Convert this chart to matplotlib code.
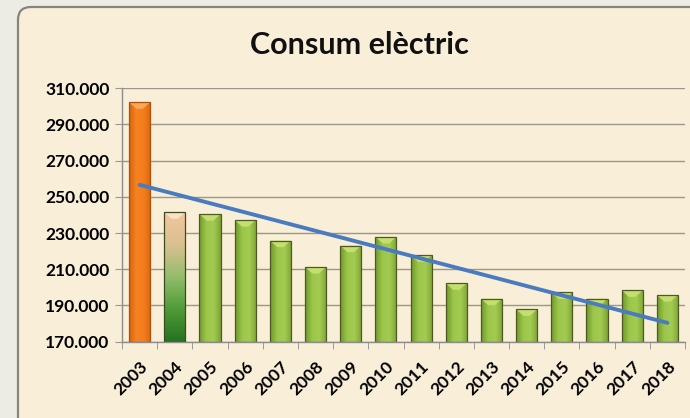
import numpy as np
import matplotlib.pyplot as plt
from matplotlib.patches import FancyBboxPatch, Polygon
from matplotlib.colors import LinearSegmentedColormap
from matplotlib.ticker import FuncFormatter

# dades del gràfic
anys = ['2003', '2004', '2005', '2006', '2007', '2008', '2009', '2010',
        '2011', '2012', '2013', '2014', '2015', '2016', '2017', '2018']
consum = [302300, 241600, 240500, 237200, 225900, 211300, 223100, 227900,
          217800, 202300, 193800, 187900, 197300, 193800, 198400, 195800]
y_min, y_max = 170000, 310000

plt.rcParams['font.family'] = ['Lato', 'DejaVu Sans']

fig = plt.figure(figsize=(6.9, 4.18), dpi=100, facecolor='#ecebe4')

# fons arrodonit tipus pergamí
bg = fig.add_axes([0, 0, 1, 1], zorder=-5)
bg.set_xlim(0, 690)
bg.set_ylim(418, 0)
bg.axis('off')
bg.add_patch(FancyBboxPatch((18, 7), 700, 430, boxstyle='round,pad=0,rounding_size=13',
                            facecolor='#f9efd9', edgecolor='#85857f', linewidth=1.6))

ax = fig.add_axes([122 / 690, 1 - 341.7 / 418, 563 / 690, 253.4 / 418])
ax.set_facecolor('none')

x = np.arange(len(anys))
ample = 0.6
bisell = (y_max - y_min) * 0.026

verd = LinearSegmentedColormap.from_list('verd', ['#6f9a2c', '#9cc64a', '#a3cc52', '#7ea434'])
taronja = LinearSegmentedColormap.from_list('taronja', ['#d9640e', '#f68220', '#f57e1c', '#dc680f'])
mixt = LinearSegmentedColormap.from_list('mixt', ['#267320', '#4f9a38', '#93bd6c', '#d9c090', '#f2c6a0'])

barres = ax.bar(x, np.array(consum) - y_min, ample, bottom=y_min, zorder=2,
                facecolor='none', edgecolor='#4f5a22', linewidth=0.9)

for i, barra in enumerate(barres):
    x0 = barra.get_x()
    x1 = x0 + barra.get_width()
    top = consum[i]
    if i == 0:
        grad = np.linspace(0, 1, 50).reshape(1, -1)
        cmap, llum, vora = taronja, '#f9ad5e', '#a8500e'
    elif i == 1:
        grad = np.linspace(0, 1, 100).reshape(-1, 1)
        cmap, llum, vora = mixt, '#fbe6c8', '#3d4a20'
    else:
        grad = np.linspace(0, 1, 50).reshape(1, -1)
        cmap, llum, vora = verd, '#c8e274', '#4f5a22'
    im = ax.imshow(grad, cmap=cmap, extent=(x0, x1, y_min, top), origin='lower',
                   aspect='auto', zorder=1.5, interpolation='bicubic')
    im.set_clip_path(barra)
    barra.set_edgecolor(vora)
    ax.add_patch(Polygon([(x0, top), (x1, top), (x1 - ample * 0.35, top - bisell),
                          (x0 + ample * 0.35, top - bisell)], closed=True,
                         facecolor=llum, edgecolor='none', alpha=0.9, zorder=1.8))

# línia de tendència lineal
coef = np.polyfit(x, consum, 1)
ax.plot(x, np.polyval(coef, x), color='#4a7bbf', linewidth=2.8, zorder=3,
        solid_capstyle='round')

ax.set_xlim(-0.5, len(anys) - 0.5)
ax.set_ylim(y_min, y_max)
ax.set_yticks(np.arange(y_min, y_max + 1, 20000))
ax.yaxis.set_major_formatter(FuncFormatter(lambda v, p: f'{v:,.0f}'.replace(',', '.')))
ax.grid(axis='y', color='#9d968c', linewidth=1, zorder=0)
ax.set_axisbelow(True)

ax.set_xticks(x)
ax.set_xticklabels(anys, rotation=45, ha='right', va='top', rotation_mode='anchor',
                   fontweight='bold', fontsize=12.5)
ax.set_xticks(np.arange(-0.5, len(anys), 1), minor=True)
ax.tick_params(axis='x', which='major', length=0, pad=12)
ax.tick_params(axis='x', which='minor', length=5, color='#8c8c8c', direction='out')
ax.tick_params(axis='y', length=5, color='#9d968c', direction='out', pad=4)
for lab in ax.get_yticklabels():
    lab.set_fontweight('bold')
    lab.set_fontsize(12.5)

for s in ['top', 'right']:
    ax.spines[s].set_visible(False)
for s in ['left', 'bottom']:
    ax.spines[s].set_color('#8c8c8c')
    ax.spines[s].set_linewidth(1)

fig.text(359 / 690, 1 - 45 / 418, 'Consum elèctric', ha='center', va='center',
         fontsize=22, fontweight='bold', color='#111111')

fig.savefig('out.png', dpi=100, facecolor=fig.get_facecolor())
